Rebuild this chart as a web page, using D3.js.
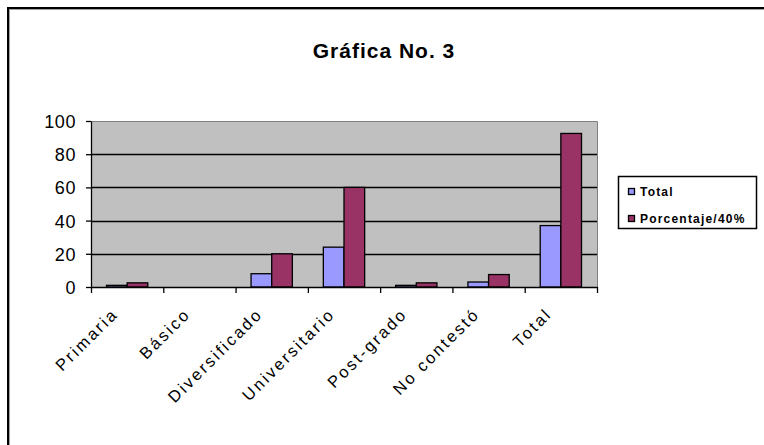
<!DOCTYPE html>
<html>
<head>
<meta charset="utf-8">
<script src="https://cdn.jsdelivr.net/npm/d3@7"></script>
<style>
  html, body { margin: 0; padding: 0; background: #fff; }
  svg { display: block; }
  text { font-family: "Liberation Sans", Arial, sans-serif; fill: #000; }
</style>
</head>
<body>
<svg id="chart" width="764" height="445"></svg>
<script>
// Education level categories and the two series
const categories = ["Primaria", "Básico", "Diversificado", "Universitario", "Post-grado", "No contestó", "Total"];
const seriesNames = ["Total", "Porcentaje/40%"];
const totalValues = [1, 0, 8, 24, 1, 3, 37];
const percentValues = [2.5, 0, 20, 60, 2.5, 7.5, 92.5];
const yTickValues = [0, 20, 40, 60, 80, 100];
const seriesColors = ["#9999FF", "#993366"];
const chartTitle = "Gráfica No. 3";

const svg = d3.select("#chart");
const plot = { left: 91, right: 597, top: 121, bottom: 287 };

// Outer chart frame (left and top edges with a soft inner shadow)
svg.append("line").attr("x1", 8).attr("x2", 8).attr("y1", 7).attr("y2", 445)
  .attr("stroke", "#000").attr("stroke-width", 2);
svg.append("line").attr("x1", 7).attr("x2", 764).attr("y1", 8).attr("y2", 8)
  .attr("stroke", "#000").attr("stroke-width", 2);
svg.append("line").attr("x1", 9.5).attr("x2", 9.5).attr("y1", 9).attr("y2", 445)
  .attr("stroke", "#a0a0a0").attr("stroke-width", 1);
svg.append("line").attr("x1", 9).attr("x2", 764).attr("y1", 9.5).attr("y2", 9.5)
  .attr("stroke", "#a0a0a0").attr("stroke-width", 1);

// Title
svg.append("text")
  .attr("x", 384).attr("y", 58)
  .attr("text-anchor", "middle")
  .style("font-size", "21px").style("font-weight", "bold")
  .style("letter-spacing", "1px")
  .text(chartTitle);

// Scales
const x = d3.scaleBand().domain(categories).range([plot.left, plot.right]).padding(0);
const xSeries = d3.scaleBand().domain(seriesNames).range([0, x.bandwidth()])
  .paddingInner(0).paddingOuter(0.75);
const y = d3.scaleLinear().domain([0, 100]).range([plot.bottom, plot.top]);

// Plot area background
svg.append("rect")
  .attr("x", plot.left).attr("y", plot.top)
  .attr("width", plot.right - plot.left).attr("height", plot.bottom - plot.top)
  .attr("fill", "#C0C0C0");
svg.append("path")
  .attr("d", `M${plot.left},${plot.top + 0.5}H${plot.right + 0.5}V${plot.bottom}`)
  .attr("fill", "none").attr("stroke", "#808080").attr("stroke-width", 1);

// Horizontal gridlines
svg.append("g").selectAll("line")
  .data(yTickValues.filter(v => v > 0 && v < 100))
  .join("line")
  .attr("x1", plot.left).attr("x2", plot.right)
  .attr("y1", d => Math.round(y(d)) + 0.5).attr("y2", d => Math.round(y(d)) + 0.5)
  .attr("stroke", "#000").attr("stroke-width", 1.3);

// Bars
const groups = svg.append("g").selectAll("g")
  .data(categories.map((c, i) => ({ cat: c, vals: [totalValues[i], percentValues[i]] })))
  .join("g")
  .attr("transform", d => `translate(${x(d.cat)},0)`);
groups.selectAll("rect")
  .data(d => d.vals.map((v, j) => ({ v, s: seriesNames[j], j })))
  .join("rect")
  .attr("x", d => xSeries(d.s))
  .attr("width", xSeries.bandwidth())
  .attr("y", d => y(d.v))
  .attr("height", d => y(0) - y(d.v))
  .attr("fill", d => seriesColors[d.j])
  .attr("stroke", "#000").attr("stroke-width", 1.3);

// Y axis
const yAxis = svg.append("g")
  .attr("transform", `translate(${plot.left},0)`)
  .call(d3.axisLeft(y).tickValues(yTickValues).tickSize(5).tickSizeOuter(0).tickPadding(10));
yAxis.select(".domain").attr("stroke", "#000").attr("stroke-width", 1.3);
yAxis.selectAll(".tick line").attr("stroke", "#000").attr("stroke-width", 1.3);
yAxis.selectAll(".tick text")
  .style("font-size", "18px").style("letter-spacing", "0.6px")
  .attr("dy", "0.36em")
  .style("font-family", "'Liberation Sans', Arial, sans-serif");

// X axis: tick marks on category boundaries
const boundary = d3.scaleLinear().domain([0, categories.length]).range([plot.left, plot.right]);
const xAxis = svg.append("g")
  .attr("transform", `translate(0,${plot.bottom})`)
  .call(d3.axisBottom(boundary).tickValues(d3.range(categories.length + 1))
    .tickSize(6).tickSizeOuter(0).tickFormat(""));
xAxis.select(".domain").attr("stroke", "#000").attr("stroke-width", 1.3);
xAxis.selectAll(".tick line").attr("stroke", "#000").attr("stroke-width", 1.3);

// Rotated category labels
svg.append("g").selectAll("text")
  .data(categories)
  .join("text")
  .attr("text-anchor", "end")
  .attr("transform", d => `translate(${x(d) + x.bandwidth() / 2 - 8},${plot.bottom + 28}) rotate(-45)`)
  .style("font-size", "16.5px").style("letter-spacing", "2.4px")
  .text(d => d);

// Legend
const legend = svg.append("g");
legend.append("rect")
  .attr("x", 618.5).attr("y", 176.5).attr("width", 138).attr("height", 52)
  .attr("fill", "#fff").attr("stroke", "#000").attr("stroke-width", 1.5);
const items = legend.selectAll("g.item")
  .data(seriesNames)
  .join("g").attr("class", "item")
  .attr("transform", (d, i) => `translate(0,${i * 27})`);
items.append("rect")
  .attr("x", 628.5).attr("y", 188.5).attr("width", 6).attr("height", 6)
  .attr("fill", (d, i) => seriesColors[i]).attr("stroke", "#000").attr("stroke-width", 1.3);
items.append("text")
  .attr("x", 640).attr("y", 196)
  .style("font-size", "12px").style("font-weight", "bold").style("letter-spacing", "1.2px")
  .text(d => d);
</script>
</body>
</html>
